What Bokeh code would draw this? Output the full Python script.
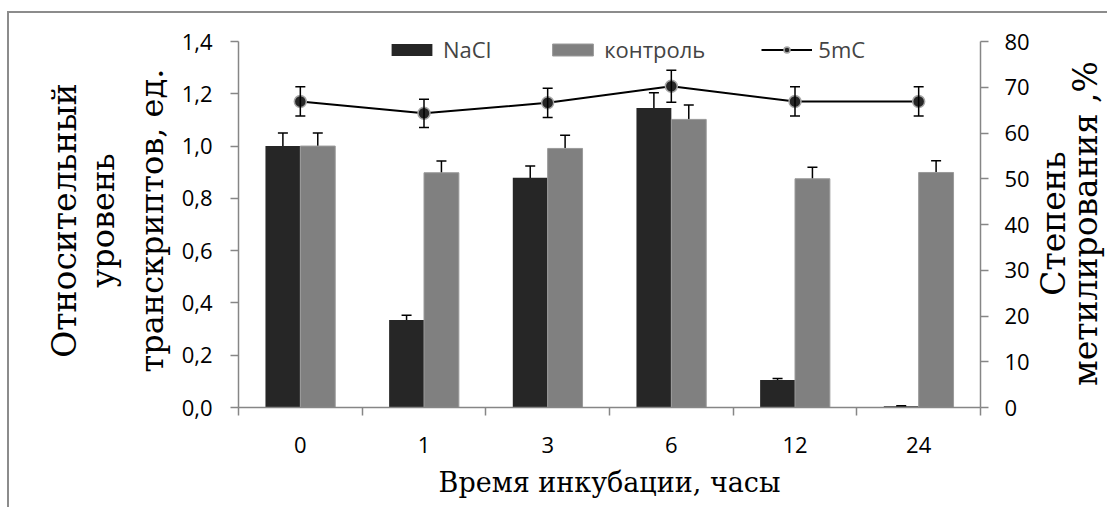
import math
from bokeh.plotting import figure
from bokeh.layouts import row
from bokeh.models import (ColumnDataSource, Range1d, LinearAxis, FixedTicker,
                          Whisker, TeeHead, Legend, LegendItem, Label)
from bokeh.embed import file_html
from bokeh.resources import INLINE

# incubation time, hours
hours = ["0", "1", "3", "6", "12", "24"]

# relative transcript level (left axis)
nacl = [1.0, 0.335, 0.879, 1.146, 0.105, 0.005]
nacl_err = [0.05, 0.018, 0.045, 0.058, 0.006, 0.002]
control = [1.0, 0.898, 0.991, 1.102, 0.875, 0.899]
control_err = [0.05, 0.045, 0.05, 0.055, 0.044, 0.045]

# methylation degree, % (right axis)
mc5 = [66.9, 64.3, 66.6, 70.2, 66.9, 66.9]
mc5_err = [3.2, 3.1, 3.2, 3.5, 3.2, 3.2]

left_ticks = [0.0, 0.2, 0.4, 0.6, 0.8, 1.0, 1.2, 1.4]
left_tick_labels = ["0,0", "0,2", "0,4", "0,6", "0,8", "1,0", "1,2", "1,4"]
right_ticks = [0, 10, 20, 30, 40, 50, 60, 70, 80]

AXIS_GRAY = "#868686"
DARK = "#262626"
MID = "#808080"
SANS = "Open Sans"
SERIF = "DejaVu Serif"
TICK_SIZE = "22px"

# a little room above the top tick so the legend text is not clipped
HEADROOM = 374 / 366

n = len(hours)
centers = [i + 0.5 for i in range(n)]
bar_w = 0.282
half = bar_w / 2

src = ColumnDataSource(dict(
    xc=centers,
    x_nacl=[c - half for c in centers],
    x_ctrl=[c + half for c in centers],
    nacl=nacl,
    nacl_lo=[v - e for v, e in zip(nacl, nacl_err)],
    nacl_hi=[v + e for v, e in zip(nacl, nacl_err)],
    ctrl=control,
    ctrl_lo=[v - e for v, e in zip(control, control_err)],
    ctrl_hi=[v + e for v, e in zip(control, control_err)],
    mc=mc5,
    mc_lo=[v - e for v, e in zip(mc5, mc5_err)],
    mc_hi=[v + e for v, e in zip(mc5, mc5_err)],
))

p = figure(width=1023, height=494, output_backend="svg", toolbar_location=None,
           x_range=Range1d(0, n), y_range=Range1d(0, left_ticks[-1] * HEADROOM),
           min_border_left=229, min_border_right=50,
           min_border_top=20, min_border_bottom=100)
p.extra_y_ranges = {"pct": Range1d(0, right_ticks[-1] * HEADROOM)}
p.outline_line_color = None
p.grid.visible = False
p.background_fill_color = "white"
p.border_fill_color = "white"


def style_axis(ax, title_size="30px"):
    ax.axis_line_color = AXIS_GRAY
    ax.axis_line_width = 1.5
    ax.major_tick_line_color = AXIS_GRAY
    ax.major_tick_line_width = 1.5
    ax.minor_tick_line_color = AXIS_GRAY
    ax.minor_tick_line_width = 1.5
    ax.major_tick_in = 0
    ax.minor_tick_in = 0
    ax.major_label_text_font = SANS
    ax.major_label_text_font_size = TICK_SIZE
    ax.major_label_text_color = "black"
    ax.axis_label_text_font = SERIF
    ax.axis_label_text_font_size = title_size
    ax.axis_label_text_font_style = "normal"
    ax.axis_label_text_color = "black"


def title_axis(text, side, standoff, size):
    ax = LinearAxis(ticker=FixedTicker(ticks=[]), axis_label=text)
    style_axis(ax, size)
    ax.axis_line_color = None
    ax.major_tick_line_color = None
    ax.minor_tick_line_color = None
    ax.major_tick_out = 0
    ax.minor_tick_out = 0
    ax.major_label_standoff = 0
    ax.major_label_text_font_size = "0px"
    ax.axis_label_standoff = standoff
    p.add_layout(ax, side)
    return ax


# left axis: transcript level, title split over three lines
ly = p.yaxis[0]
style_axis(ly, "32px")
ly.bounds = (left_ticks[0], left_ticks[-1])
ly.ticker = FixedTicker(ticks=left_ticks, minor_ticks=[])
ly.major_label_overrides = dict(zip(left_ticks, left_tick_labels))
ly.major_tick_out = 8
ly.minor_tick_out = 0
ly.major_label_standoff = 18
ly.axis_label = "транскриптов, ед."
ly.axis_label_standoff = 8
title_axis("уровень", "left", 8, "32px")
title_axis("Относительный", "left", -3, "33px")

# right axis: methylation
ry = LinearAxis(y_range_name="pct")
style_axis(ry)
ry.bounds = (right_ticks[0], right_ticks[-1])
ry.ticker = FixedTicker(ticks=right_ticks, minor_ticks=[])
ry.major_tick_out = 8
ry.minor_tick_out = 0
ry.major_label_standoff = 16
p.add_layout(ry, "right")

# bottom axis: category boundaries as minor ticks, labels at centers
bx = p.xaxis[0]
style_axis(bx, "27px")
bx.ticker = FixedTicker(ticks=centers, minor_ticks=list(range(n + 1)))
bx.major_label_overrides = dict(zip(centers, hours))
bx.major_tick_out = 0
bx.minor_tick_out = 8
bx.major_label_standoff = 21
bx.axis_label = "Время инкубации, часы"
bx.axis_label_standoff = 11

# bars
r_nacl = p.vbar(x="x_nacl", top="nacl", width=bar_w, source=src,
                fill_color=DARK, line_color=None)
r_ctrl = p.vbar(x="x_ctrl", top="ctrl", width=bar_w, source=src,
                fill_color=MID, line_color="#9a9a9a", line_width=1)

head = dict(size=10, line_width=1.5, line_color="black")
p.add_layout(Whisker(base="x_nacl", lower="nacl_lo", upper="nacl_hi", source=src,
                     line_color="black", line_width=1.5,
                     lower_head=TeeHead(**head), upper_head=TeeHead(**head)))
p.add_layout(Whisker(base="x_ctrl", lower="ctrl_lo", upper="ctrl_hi", source=src,
                     line_color="black", line_width=1.5,
                     lower_head=TeeHead(**head), upper_head=TeeHead(**head)))

# 5mC line on the right axis
mc_wh = Whisker(base="xc", lower="mc_lo", upper="mc_hi", source=src,
                y_range_name="pct", level="glyph",
                line_color="black", line_width=1.5,
                lower_head=TeeHead(**head), upper_head=TeeHead(**head))
p.add_layout(mc_wh)
r_line = p.line(x="xc", y="mc", source=src, y_range_name="pct",
                line_color="black", line_width=2)
r_pts = p.scatter(x="xc", y="mc", source=src, y_range_name="pct", size=12,
                  fill_color=DARK, line_color="#a6a6a6", line_width=1.5)

legend = Legend(items=[LegendItem(label="NaCl", renderers=[r_nacl]),
                       LegendItem(label="контроль", renderers=[r_ctrl]),
                       LegendItem(label="5mC", renderers=[r_line, r_pts])],
                orientation="horizontal", location=(148, 343),
                glyph_width=51, glyph_height=15, label_standoff=6, spacing=56,
                padding=0, margin=0, border_line_color=None,
                background_fill_alpha=0,
                label_text_font=SANS, label_text_font_size=TICK_SIZE)
p.add_layout(legend, "center")

# right-hand title, read bottom to top, in a narrow strip beside the plot;
# its frame lines up with the main plot frame, so y is measured from the x axis
side = figure(width=75, height=494, output_backend="svg", toolbar_location=None,
              x_range=Range1d(0, 1), y_range=Range1d(0, 1),
              x_axis_type=None, y_axis_type=None, min_border=0)
side.outline_line_color = None
side.background_fill_color = "white"
side.border_fill_color = "white"
for text, sx, size in [("Степень", 21, "33px"), ("метилирования ,%", 53, "33px")]:
    side.add_layout(Label(x=sx, y=184, x_units="screen", y_units="screen",
                          text=text, angle=math.pi / 2, text_align="center",
                          text_baseline="middle", text_font=SERIF,
                          text_font_size=size, text_color="black"))

page = row(p, side, spacing=0)
page.styles = {"margin-left": "7px", "margin-top": "11px",
               "border-left": "2px solid #8c8c8c", "border-top": "2px solid #8c8c8c"}

open("out.html", "w").write(file_html(page, INLINE))
